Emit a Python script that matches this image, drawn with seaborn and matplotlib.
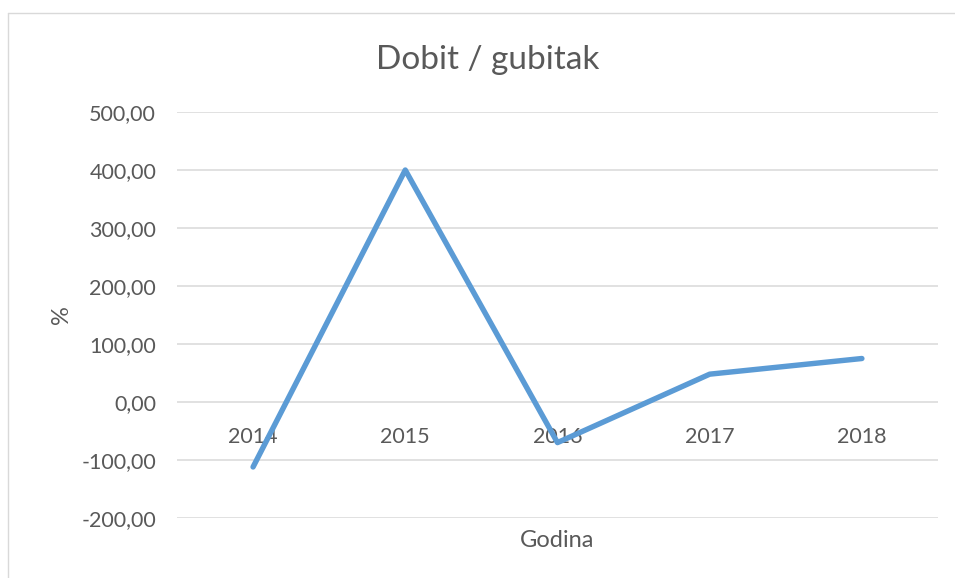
import matplotlib
matplotlib.use("Agg")
import matplotlib.pyplot as plt
import seaborn as sns
from matplotlib.lines import Line2D
from matplotlib.ticker import FuncFormatter

years = ["2014", "2015", "2016", "2017", "2018"]
dobit = [-112, 400, -70, 48, 75]
y_ticks = [-200, -100, 0, 100, 200, 300, 400, 500]

sns.set_style("white")
plt.rcParams["font.family"] = ["Lato", "DejaVu Sans"]
text_col = "#595959"
grid_col = "#D9D9D9"

fig = plt.figure(figsize=(9.55, 5.78), dpi=100)
ax = fig.add_axes([0.1853, 0.1038, 0.7969, 0.7024])

sns.lineplot(x=years, y=dobit, sort=False, color="#5B9BD5", linewidth=3.9,
             solid_joinstyle="round", solid_capstyle="round", ax=ax, zorder=3)

ax.set_xlim(-0.5, 4.5)
ax.set_ylim(-200, 500)
ax.set_yticks(y_ticks)
ax.yaxis.set_major_formatter(FuncFormatter(lambda v, p: f"{v:.2f}".replace(".", ",")))
ax.grid(axis="y", color=grid_col, linewidth=1.1)
ax.set_axisbelow(True)

for s in ["left", "right", "top"]:
    ax.spines[s].set_visible(False)
# category labels sit at the zero line, like Excel
ax.spines["bottom"].set_position(("data", 0))
ax.spines["bottom"].set_visible(False)

ax.tick_params(axis="x", length=0, pad=18, labelsize=15.5, labelcolor=text_col)
ax.tick_params(axis="y", length=0, pad=15, labelsize=15.5, labelcolor=text_col)

fig.text(488 / 955, 1 - 60 / 578, "Dobit / gubitak", fontsize=24, color=text_col,
         ha="center", va="center")
ax.set_xlabel("Godina", fontsize=17, color=text_col)
ax.set_ylabel("%", fontsize=17, color=text_col)
ax.xaxis.set_label_coords(0.5, -0.03)
ax.yaxis.set_label_coords(-0.138, 0.5)

# chart border (cropped)
fig.add_artist(Line2D([8 / 955, 8 / 955], [0, 1 - 13 / 578], color=grid_col, lw=1, transform=fig.transFigure))
fig.add_artist(Line2D([8 / 955, 1], [1 - 13 / 578, 1 - 13 / 578], color=grid_col, lw=1, transform=fig.transFigure))

fig.savefig("out.png", dpi=100)
